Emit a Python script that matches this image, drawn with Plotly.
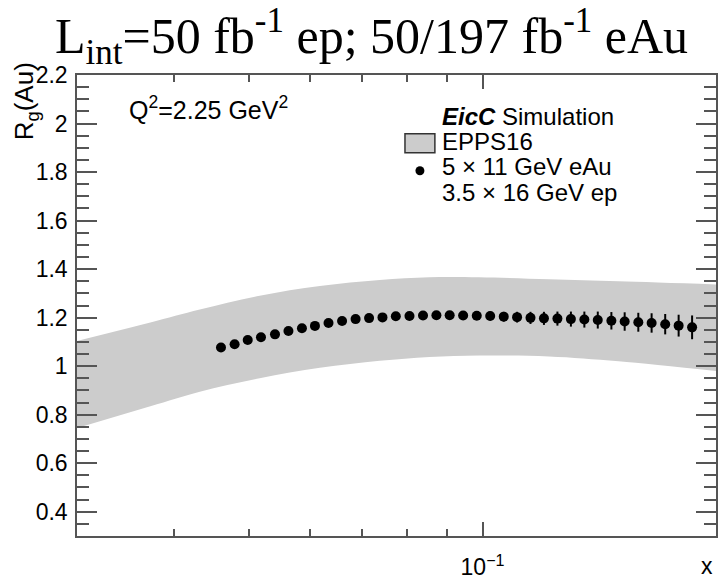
import plotly.graph_objects as go

# ---------------- data ----------------
x_points = [0.0460, 0.0479, 0.0498, 0.0518, 0.0540, 0.0562, 0.0585, 0.0608, 0.0633,
            0.0659, 0.0686, 0.0714, 0.0743, 0.0773, 0.0805, 0.0838, 0.0872, 0.0907,
            0.0944, 0.0983, 0.1023, 0.1065, 0.1108, 0.1153, 0.1200, 0.1249, 0.1300,
            0.1353, 0.1408, 0.1466, 0.1525, 0.1588, 0.1652, 0.1720, 0.1790, 0.1863]
rg_points = [1.077, 1.090, 1.108, 1.119, 1.131, 1.145, 1.156, 1.166, 1.178,
             1.186, 1.194, 1.198, 1.201, 1.206, 1.207, 1.209, 1.210, 1.210,
             1.209, 1.208, 1.207, 1.204, 1.202, 1.199, 1.197, 1.196, 1.194,
             1.192, 1.190, 1.187, 1.184, 1.181, 1.178, 1.173, 1.167, 1.160]
rg_errors = [0.004, 0.004, 0.005, 0.005, 0.005, 0.006, 0.006, 0.007, 0.007,
             0.008, 0.008, 0.009, 0.010, 0.010, 0.011, 0.012, 0.013, 0.014,
             0.015, 0.016, 0.018, 0.020, 0.022, 0.025, 0.027, 0.029, 0.031,
             0.033, 0.035, 0.036, 0.038, 0.039, 0.040, 0.042, 0.045, 0.049]

band_x = [0.030, 0.0373, 0.0432, 0.0516, 0.0617, 0.0737, 0.0854, 0.0990, 0.1218, 0.1498, 0.200]
band_upper = [1.104, 1.180, 1.233, 1.290, 1.330, 1.355, 1.366, 1.366, 1.358, 1.350, 1.337]
band_lower = [0.745, 0.835, 0.895, 0.950, 0.993, 1.022, 1.038, 1.044, 1.040, 1.020, 0.980]

y_major_ticks = [0.4, 0.6, 0.8, 1.0, 1.2, 1.4, 1.6, 1.8, 2.0, 2.2]
y_tick_labels = ["0.4", "0.6", "0.8", "1", "1.2", "1.4", "1.6", "1.8", "2", "2.2"]
x_major_ticks = [0.1]
x_tick_labels = ["10<sup>\u22121</sup>"]
x_minor_ticks = [0.04, 0.05, 0.06, 0.07, 0.08, 0.09]

title_text = "L<sub>int</sub>=50 fb<sup>-1</sup> ep; 50/197 fb<sup>-1</sup> eAu"
legend_labels = ["<b><i>EicC</i></b> Simulation", "EPPS16", "5 \u00d7 11 GeV eAu", "3.5 \u00d7 16 GeV ep"]
q2_text = "Q<sup>2</sup>=2.25 GeV<sup>2</sup>"

# ---------------- layout geometry (pixels) ----------------
W, H = 720, 582
L, R, T, B = 77, 2, 75, 45
PW, PH = W - L - R, H - T - B


def px(xp):
    return (xp - L) / PW


def py(yp):
    return (H - B - yp) / PH


AX = "#555555"
SANS = "Liberation Sans, Arial, sans-serif"

fig = go.Figure()
fig.add_trace(go.Scatter(x=band_x, y=band_lower, mode="lines", line=dict(width=0, shape="spline"),
                         showlegend=False, hoverinfo="skip"))
fig.add_trace(go.Scatter(x=band_x, y=band_upper, mode="lines", line=dict(width=0, shape="spline"),
                         fill="tonexty", fillcolor="#cccccc", showlegend=False, name="EPPS16"))
fig.add_trace(go.Scatter(x=x_points, y=rg_points, mode="markers",
                         marker=dict(color="black", size=10),
                         error_y=dict(type="data", array=rg_errors, color="black", thickness=2, width=0),
                         showlegend=False, name="5 x 11 GeV eAu"))

fig.update_layout(
    width=W, height=H,
    margin=dict(l=L, r=R, t=T, b=B, pad=0),
    paper_bgcolor="white", plot_bgcolor="white",
    font=dict(family=SANS, size=23, color="black"),
    showlegend=False,
)
fig.update_xaxes(
    type="log", range=[-1.5229, -0.69897],
    showline=True, linecolor=AX, linewidth=1.5, mirror="ticks",
    showgrid=False, zeroline=False,
    ticks="inside", ticklen=14, tickcolor=AX, tickwidth=1.5,
    tickmode="array", tickvals=x_major_ticks, ticktext=x_tick_labels,
    tickfont=dict(size=23, family=SANS), ticklabelstandoff=10,
    minor=dict(tickmode="array", tickvals=x_minor_ticks, ticks="inside", ticklen=7,
               tickcolor=AX, tickwidth=1.5, showgrid=False),
)
fig.update_yaxes(
    range=[0.3, 2.2],
    showline=True, linecolor=AX, linewidth=1.5, mirror="ticks",
    showgrid=False, zeroline=False,
    ticks="inside", ticklen=20, tickcolor=AX, tickwidth=1.5,
    tickmode="array", tickvals=y_major_ticks, ticktext=y_tick_labels,
    tickfont=dict(size=23, family=SANS), ticklabelstandoff=3,
    minor=dict(dtick=0.05, ticks="inside", ticklen=12, tickcolor=AX, tickwidth=1.5, showgrid=False),
)

ann = []
ann.append(dict(text=title_text, x=px(372), y=py(36), xref="paper", yref="paper",
                xanchor="center", yanchor="middle", showarrow=False,
                font=dict(family="Liberation Serif, Times New Roman, serif", size=50, color="black")))
ann.append(dict(text="R<sub>g</sub>(Au)", x=px(25), y=py(60), xref="paper", yref="paper",
                xanchor="center", yanchor="top", textangle=-90, showarrow=False,
                font=dict(size=26, family=SANS)))
ann.append(dict(text="x", x=px(717), y=py(567), xref="paper", yref="paper",
                xanchor="right", yanchor="middle", showarrow=False, font=dict(size=23, family=SANS)))
ann.append(dict(text=q2_text, x=px(127), y=py(108), xref="paper", yref="paper",
                xanchor="left", yanchor="middle", showarrow=False, font=dict(size=25, family=SANS)))
for lbl, yc in zip(legend_labels, [117, 142, 167, 193]):
    ann.append(dict(text=lbl, x=px(441), y=py(yc), xref="paper", yref="paper",
                    xanchor="left", yanchor="middle", showarrow=False, font=dict(size=24, family=SANS)))
fig.update_layout(annotations=ann)

fig.add_shape(type="rect", xref="paper", yref="paper", x0=px(406), x1=px(436), y0=py(153), y1=py(134),
              fillcolor="#cccccc", line=dict(color="#333333", width=1.5))
fig.add_shape(type="circle", xref="paper", yref="paper", x0=px(416.5), x1=px(425.5), y0=py(175.5), y1=py(166.5),
              fillcolor="black", line=dict(color="black", width=0))

fig.write_html("out.html")
